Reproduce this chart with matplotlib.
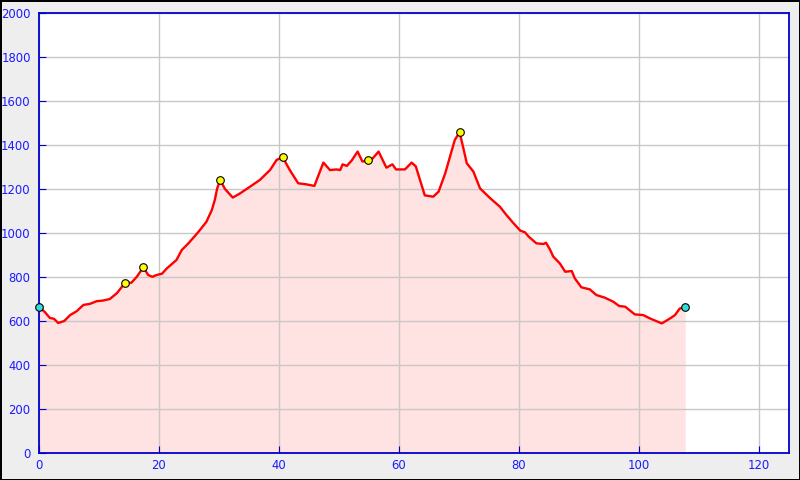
import matplotlib.pyplot as plt

# distance (km) and elevation (m) read from the profile
dist = [0, 1.0, 1.8, 2.5, 3.2, 4.2, 5.2, 6.3, 7.4, 8.5, 9.6, 10.7, 11.8, 13.0,
        14.3, 15.4, 16.3, 17.4, 18.2, 18.9, 19.6, 20.5, 21.3, 22.9, 23.8, 24.9,
        26.6, 27.9, 28.8, 29.3, 29.7, 30.2, 31.0, 32.3, 33.5, 35.2, 36.8, 38.5,
        39.6, 40.6, 41.8, 43.2, 44.6, 45.9, 46.6, 47.4, 48.5, 49.6, 50.2, 50.6,
        51.3, 52.1, 53.1, 53.9, 54.9, 55.6, 56.6, 57.4, 57.9, 58.9, 59.5, 61.0,
        62.1, 62.8, 63.5, 64.3, 65.7, 66.6, 67.7, 68.5, 69.3, 70.1, 70.8, 71.3,
        72.4, 73.5, 75.2, 76.8, 77.9, 79.0, 80.2, 81.0, 81.6, 82.9, 84.1, 84.5,
        85.2, 85.7, 86.8, 87.7, 88.8, 89.3, 90.4, 91.8, 92.9, 94.3, 95.7, 96.7,
        97.7, 99.3, 100.7, 101.8, 103.8, 105.2, 106.0, 106.8, 107.7]
elev = [664, 640, 614, 610, 591, 600, 627, 645, 673, 678, 690, 693, 700, 727,
        772, 774, 801, 845, 809, 801, 809, 815, 839, 877, 923, 953,
        1006, 1051, 1104, 1150, 1203, 1240, 1200, 1161, 1180, 1211, 1241, 1286,
        1332, 1345, 1286, 1226, 1221, 1214, 1264, 1320, 1286, 1289, 1286, 1312,
        1305, 1329, 1370, 1325, 1330, 1339, 1370, 1325, 1297, 1312, 1289, 1289,
        1320, 1303, 1241, 1171, 1165, 1188, 1271, 1347, 1423, 1458, 1377, 1317,
        1279, 1203, 1158, 1120, 1082, 1047, 1011, 1003, 984, 953, 950, 956,
        923, 893, 862, 824, 827, 794, 753, 744, 718, 706, 688, 668,
        665, 630, 627, 612, 589, 612, 627, 657, 662]

# summit points (yellow) and start/end points (cyan)
peak_x = [14.3, 17.4, 30.2, 40.6, 54.9, 70.1]
peak_y = [772, 845, 1240, 1345, 1330, 1458]
end_x = [0, 107.7]
end_y = [664, 662]

blue = '#1a1aff'
frame_blue = '#0000cc'

fig = plt.figure(figsize=(8, 4.8), dpi=100, facecolor='#eeeeee',
                 edgecolor='black', linewidth=1)
ax = fig.add_axes([39 / 800, 27 / 480, 750 / 800, 440 / 480])

ax.fill_between(dist, elev, 0, color='#ffe2e2', zorder=0.4, linewidth=0)
ax.plot(dist, elev, color='red', linewidth=1.7, zorder=2)
ax.scatter(peak_x, peak_y, s=30, color='yellow', edgecolors='black',
           linewidths=0.8, zorder=3)
ax.scatter(end_x, end_y, s=30, color='#33dddd', edgecolors='black',
           linewidths=0.8, zorder=3, clip_on=False)

ax.set_xlim(0, 125)
ax.set_ylim(0, 2000)
ax.set_xticks(range(0, 121, 20))
ax.set_yticks(range(0, 2001, 200))
ax.set_axisbelow(True)
ax.grid(True, color='#c8c8c8', linewidth=1)

for s in ax.spines.values():
    s.set_color(frame_blue)
    s.set_linewidth(1.3)
ax.tick_params(direction='in', length=5, color=frame_blue, labelcolor=blue,
               labelsize=8.4)
ax.tick_params(axis='y', pad=6)
ax.tick_params(axis='x', pad=4)

fig.savefig('out.png', dpi=100, facecolor=fig.get_facecolor(),
            edgecolor='black')
